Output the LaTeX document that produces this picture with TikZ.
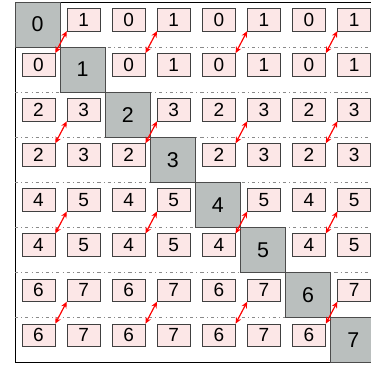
\documentclass[tikz,border=0pt]{standalone}
\usepackage{fontspec}
\setmainfont{Liberation Sans}
\usetikzlibrary{arrows.meta}
\definecolor{cellGray}{HTML}{BABFBE}
\definecolor{boxPink}{HTML}{FCE7E7}
\definecolor{rowLine}{HTML}{8A8A8A}
\begin{document}
\begin{tikzpicture}[x=1cm,y=1cm,
  blk/.style={draw=black!75,fill=boxPink,minimum width=0.73cm,minimum height=0.5cm,inner sep=0pt,font=\fontsize{12}{12}\selectfont},
  diag/.style={draw=black!70,fill=cellGray,minimum size=1cm,inner sep=0pt,font=\fontsize{13.5}{13.5}\selectfont},
  rowsep/.style={rowLine,line width=0.5pt,dash pattern=on 2pt off 2pt on 0.5pt off 2pt},
  swap/.style={red,line width=0.75pt,{Stealth[length=4pt,width=3.6pt]}-{Stealth[length=4pt,width=3.6pt]}}]
\useasboundingbox (-0.333,0.044) rectangle (7.894,-8.115);
\clip (-0.333,0.044) rectangle (7.894,-8.115);
% outer frame
\draw[line width=0.6pt] (0,0) rectangle (8,-8);
% row separators
\foreach \k in {1,...,7}
  \draw[rowsep] (0,-\k) -- (8,-\k);
% diagonal cells
\foreach \r in {0,...,7}
  \node[diag] (g-\r) at (\r+0.5,-\r-0.5) {\r};
% small boxes
\foreach \r in {0,...,7}{
  \foreach \c in {0,...,7}{
    \ifnum\r=\c\else
      \pgfmathtruncatemacro{\v}{2*int(\r/2)+mod(\c,2)}
      \node[blk] (b-\r-\c) at (\c+0.52,-\r-0.39) {\v};
    \fi
  }
}
% exchanges
\foreach \r in {0,2,4,6}{
  \foreach \c in {1,3,5,7}{
    \pgfmathtruncatemacro{\rr}{\r+1}
    \pgfmathtruncatemacro{\cc}{\c-1}
    \draw[swap] (b-\r-\c.south west) -- (b-\rr-\cc.north east);
  }
}
\end{tikzpicture}
\end{document}
